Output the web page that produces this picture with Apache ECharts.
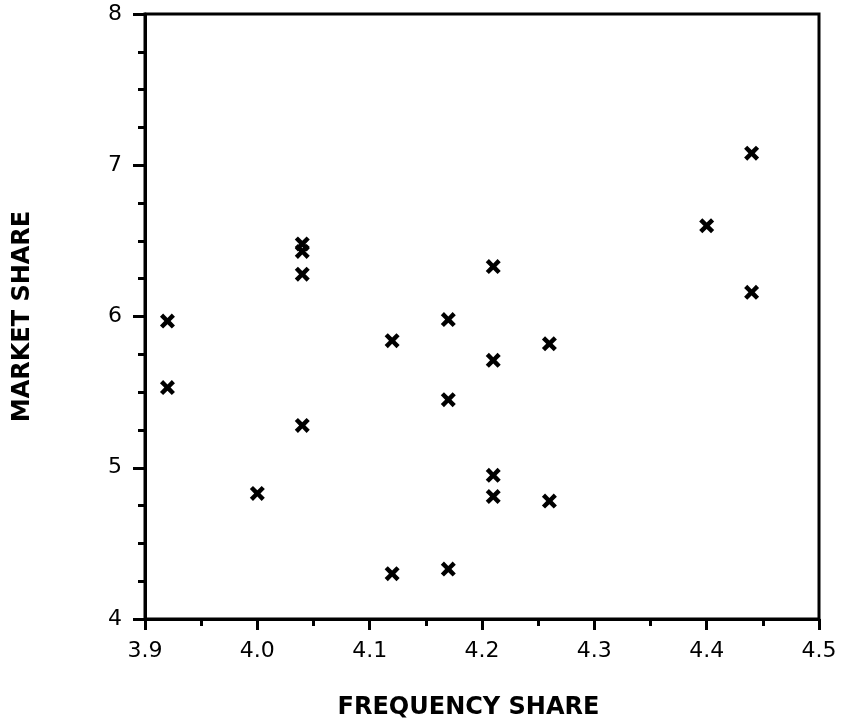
<!DOCTYPE html>
<html>
<head>
<meta charset="utf-8">
<script src="https://cdn.jsdelivr.net/npm/echarts@6/dist/echarts.min.js"></script>
<style>html,body{margin:0;padding:0;background:#fff;}#chart{width:842px;height:722px;}</style>
</head>
<body>
<div id="chart"></div>
<script>
// Data
var frequencyShare = [3.92, 3.92, 4.00, 4.04, 4.04, 4.04, 4.04, 4.12, 4.12, 4.17, 4.17, 4.17, 4.21, 4.21, 4.21, 4.21, 4.26, 4.26, 4.40, 4.44, 4.44];
var marketShare    = [5.97, 5.53, 4.83, 5.28, 6.28, 6.48, 6.43, 5.84, 4.30, 5.98, 5.45, 4.33, 6.33, 5.71, 4.95, 4.81, 5.82, 4.78, 6.60, 7.08, 6.16];
var xTickLabels = ['3.9', '4.0', '4.1', '4.2', '4.3', '4.4', '4.5'];
var yTickLabels = ['4', '5', '6', '7', '8'];
var xTitle = 'FREQUENCY SHARE';
var yTitle = 'MARKET SHARE';

var points = frequencyShare.map(function (x, i) { return [x, marketShare[i]]; });
var xMark = 'path://M0,2.1 L2.1,0 L5,2.9 L7.9,0 L10,2.1 L7.1,5 L10,7.9 L7.9,10 L5,7.1 L2.1,10 L0,7.9 L2.9,5 Z';

var chart = echarts.init(document.getElementById('chart'));
chart.setOption({
  backgroundColor: '#fff',
  animation: false,
  grid: {
    left: 145, top: 14, width: 674, height: 605,
    outerBoundsMode: 'none', containLabel: false,
    show: true, borderColor: '#000', borderWidth: 3, backgroundColor: 'transparent'
  },
  xAxis: {
    type: 'value', min: 3.9, max: 4.5, interval: 0.1,
    name: xTitle, nameLocation: 'middle', nameGap: 77,
    nameTextStyle: { color: '#000', fontFamily: 'DejaVu Sans', fontWeight: 'bold', fontSize: 24, padding: [0, 27, 0, 0] },
    axisLine: { show: true, lineStyle: { color: '#000', width: 3 } },
    axisTick: { show: true, inside: false, length: 11, lineStyle: { color: '#000', width: 3 } },
    minorTick: { show: true, splitNumber: 2, length: 7, lineStyle: { color: '#000', width: 3 } },
    splitLine: { show: false },
    axisLabel: {
      margin: 21, color: '#000', fontFamily: 'DejaVu Sans', fontSize: 22,
      formatter: function (v) { var i = Math.round((v - 3.9) / 0.1); return xTickLabels[i] !== undefined ? xTickLabels[i] : ''; }
    }
  },
  yAxis: {
    type: 'value', min: 4, max: 8, interval: 1,
    name: yTitle, nameLocation: 'middle', nameGap: 110, nameRotate: 90,
    nameTextStyle: { color: '#000', fontFamily: 'DejaVu Sans', fontWeight: 'bold', fontSize: 24 },
    axisLine: { show: true, lineStyle: { color: '#000', width: 3 } },
    axisTick: { show: true, inside: false, length: 12, lineStyle: { color: '#000', width: 3 } },
    minorTick: { show: true, splitNumber: 4, length: 7, lineStyle: { color: '#000', width: 3 } },
    splitLine: { show: false },
    axisLabel: {
      margin: 23, color: '#000', fontFamily: 'DejaVu Sans', fontSize: 22,
      formatter: function (v) { var i = Math.round(v - 4); return yTickLabels[i] !== undefined ? yTickLabels[i] : ''; }
    }
  },
  series: [{
    type: 'scatter',
    data: points,
    symbol: xMark,
    symbolSize: 15,
    itemStyle: { color: '#000', opacity: 1 }
  }]
});
</script>
</body>
</html>
